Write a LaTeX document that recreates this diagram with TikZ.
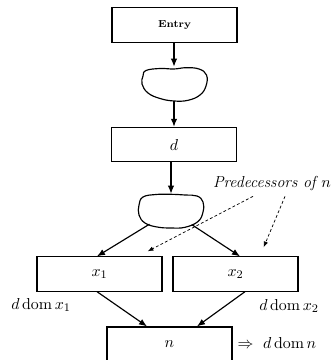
\documentclass[tikz,border=0pt]{standalone}
\usetikzlibrary{arrows.meta,shapes.geometric,calc}
\begin{document}
\begin{tikzpicture}[x=0.69pt,y=-0.69pt,
  block/.style={draw,line width=0.8pt,minimum width=86.3pt,minimum height=23.6pt,inner sep=0pt},
  blobnode/.style={ellipse,minimum width=45.5pt,minimum height=23.5pt,inner sep=0pt},
  blobline/.style={line width=0.8pt},
  flow/.style={line width=0.8pt,-{Latex[length=5.5pt,width=4.4pt]}},
  pointer/.style={dash pattern=on 2pt off 1.5pt,line width=0.5pt,-{Latex[length=4pt,width=3pt]}},
  label/.style={font=\fontsize{11}{13}\selectfont}]
\useasboundingbox (0,0) rectangle (332,360);
\clip (0,0) rectangle (332,360);

% blocks
\node[block,font=\scriptsize\bfseries] (entry) at (174.5,25) {Entry};
\node[blobnode] (b1) at (174,84) {};
\node[block,label] (d) at (174,144.5) {$d$};
\node[blobnode] (b2) at (171,211) {};
\node[block,label] (x1) at (99.5,274) {$x_1$};
\node[block,label] (x2) at (235.5,274) {$x_2$};
\node[block,label,minimum height=24.2pt] (n) at (169.5,344.5) {$n$};

% irregular regions of the flow graph
\draw[blobline,shift={(b1.center)}] plot[smooth cycle,tension=0.7] coordinates
  {(-28,-13.5) (-14,-15.5) (0,-15) (12,-16.3) (25,-15)
   (32.5,-9) (32,2) (26,11)
   (14,16.3) (0,17) (-14,14.5)
   (-26,9) (-32,0) (-31,-8)};
\draw[blobline,shift={(b2.center)}] plot[smooth cycle,tension=0.7] coordinates
  {(-28,-14) (-15,-16.5) (0,-16.7) (14,-16) (26,-15)
   (32,-9) (32,1) (27,10.5)
   (14,16.3) (0,17) (-14,16)
   (-26,12) (-32,4) (-32,-6)};

% labels
\node[label] (pred) at (272,184) {\itshape Predecessors of $n$};
\node[label] (dx1) at (41,305) {$d\,\mathrm{dom}\,x_1$};
\node[label] (dx2) at (289,306) {$d\,\mathrm{dom}\,x_2$};
\node[label] (dn) at (277,343) {$\Rightarrow\ d\,\mathrm{dom}\,n$};

% control flow
\draw[flow] (entry.south -| b1.north) -- (b1.north);
\draw[flow] (b1.south) -- (b1.south |- d.north);
\draw[flow] (d.south -| b2.north) -- (b2.north);
\draw[flow] (b2) -- ($(x1.north)+(-2.5,0)$);
\draw[flow] (b2) -- ($(x2.north)+(4.5,0)$);
\draw[flow] ($(x1.south)+(-2.5,0)$) -- ($(n.north)+(-22.5,0)$);
\draw[flow] ($(x2.south)+(9.5,0)$) -- ($(n.north)+(27.5,0)$);

% pointers from the annotation
\draw[pointer] ($(pred.south)+(-19,0)$) -- ($(x1.north east)+(-15,-5)$);
\draw[pointer] ($(pred.south)+(13,0)$) -- ($(x2.north east)+(-35,-9)$);
\end{tikzpicture}
\end{document}
